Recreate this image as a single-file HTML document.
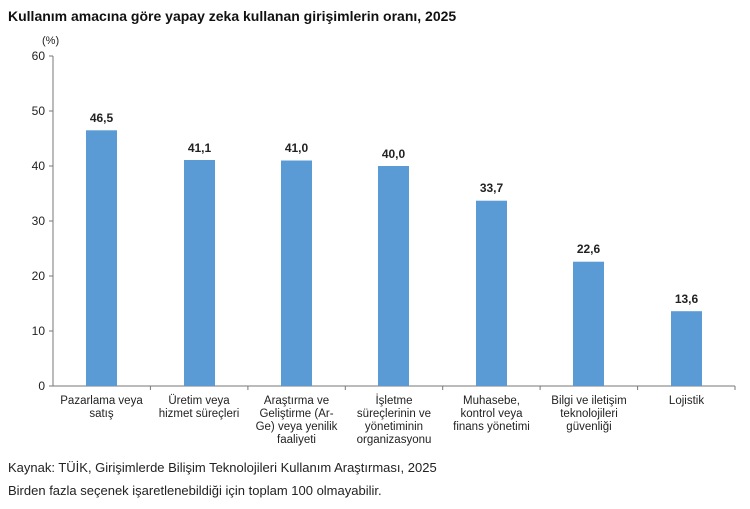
<!DOCTYPE html>
<html><head><meta charset="utf-8"><style>
body{margin:0;background:#fff;width:750px;height:504px;overflow:hidden;font-family:"Liberation Sans",Arial,sans-serif}
</style></head><body>
<svg width="750" height="504" xmlns="http://www.w3.org/2000/svg" font-family="Liberation Sans, Arial, sans-serif">
<text x="8" y="21" font-size="14" font-weight="bold" fill="#111">Kullanım amacına göre yapay zeka kullanan girişimlerin oranı, 2025</text>
<text x="42" y="44" font-size="11" fill="#222">(%)</text>
<g stroke="#777" stroke-width="1">
<line x1="53" y1="56" x2="53" y2="386"/>
<line x1="53" y1="386" x2="735" y2="386"/>
<line x1="49" y1="56" x2="53" y2="56"/><line x1="49" y1="111" x2="53" y2="111"/><line x1="49" y1="166" x2="53" y2="166"/><line x1="49" y1="221" x2="53" y2="221"/><line x1="49" y1="276" x2="53" y2="276"/><line x1="49" y1="331" x2="53" y2="331"/><line x1="49" y1="386" x2="53" y2="386"/>
<line x1="150.4" y1="386" x2="150.4" y2="390"/><line x1="247.9" y1="386" x2="247.9" y2="390"/><line x1="345.3" y1="386" x2="345.3" y2="390"/><line x1="442.7" y1="386" x2="442.7" y2="390"/><line x1="540.1" y1="386" x2="540.1" y2="390"/><line x1="637.6" y1="386" x2="637.6" y2="390"/><line x1="735" y1="386" x2="735" y2="390"/>
</g>
<g font-size="12" fill="#222" text-anchor="end">
<text x="45" y="60">60</text><text x="45" y="115">50</text><text x="45" y="170">40</text><text x="45" y="225">30</text><text x="45" y="280">20</text><text x="45" y="335">10</text><text x="45" y="390">0</text>
</g>
<g fill="#5b9bd5">
<rect x="86" y="130.3" width="31" height="255.7"/>
<rect x="184" y="160" width="31" height="226"/>
<rect x="281" y="160.5" width="31" height="225.5"/>
<rect x="378" y="166" width="31" height="220"/>
<rect x="476" y="200.7" width="31" height="185.3"/>
<rect x="573" y="261.7" width="31" height="124.3"/>
<rect x="671" y="311.2" width="31" height="74.8"/>
</g>
<g font-size="12" font-weight="bold" fill="#222" text-anchor="middle">
<text x="101.5" y="122">46,5</text><text x="199.5" y="152">41,1</text><text x="296.5" y="152">41,0</text><text x="393.5" y="158">40,0</text><text x="491.5" y="192">33,7</text><text x="588.5" y="253">22,6</text><text x="686.5" y="303">13,6</text>
</g>
<g font-size="11.5" fill="#222" text-anchor="middle">
<text x="101.5" y="404">Pazarlama veya</text><text x="101.5" y="417">satış</text>
<text x="199" y="404">Üretim veya</text><text x="199" y="417">hizmet süreçleri</text>
<text x="296.5" y="404">Araştırma ve</text><text x="296.5" y="417">Geliştirme (Ar-</text><text x="296.5" y="430">Ge) veya yenilik</text><text x="296.5" y="443">faaliyeti</text>
<text x="394" y="404">İşletme</text><text x="394" y="417">süreçlerinin ve</text><text x="394" y="430">yönetiminin</text><text x="394" y="443">organizasyonu</text>
<text x="491.5" y="404">Muhasebe,</text><text x="491.5" y="417">kontrol veya</text><text x="491.5" y="430">finans yönetimi</text>
<text x="589" y="404">Bilgi ve iletişim</text><text x="589" y="417">teknolojileri</text><text x="589" y="430">güvenliği</text>
<text x="686.5" y="404">Lojistik</text>
</g>
<text x="8" y="472" font-size="13" fill="#222">Kaynak: TÜİK, Girişimlerde Bilişim Teknolojileri Kullanım Araştırması, 2025</text>
<text x="8" y="495" font-size="13" fill="#222">Birden fazla seçenek işaretlenebildiği için toplam 100 olmayabilir.</text>
</svg>
</body></html>
